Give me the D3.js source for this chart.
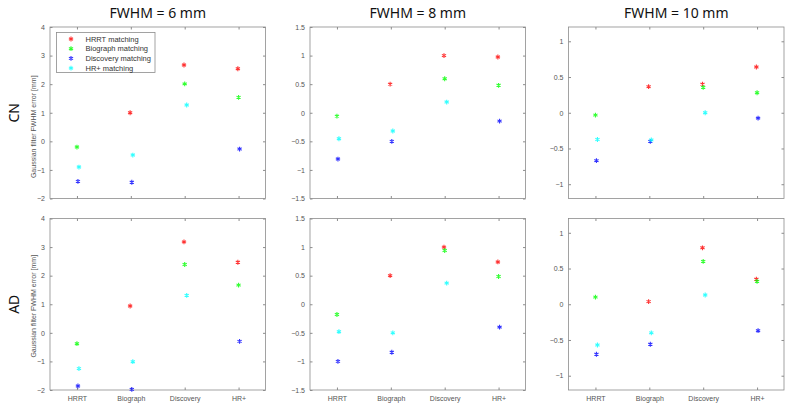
<!DOCTYPE html>
<html>
<head>
<meta charset="utf-8">
<script src="https://cdn.jsdelivr.net/npm/d3@7"></script>
<style>
  body { margin: 0; background: #fff; }
  svg { display: block; }
  .tick text { font-family: "Liberation Sans", Arial, sans-serif; font-size: 7px; fill: #555; }
</style>
</head>
<body>
<svg width="791" height="404"></svg>
<script>
// scanners on the x axis, one series per matching target
const scanners = ['HRRT', 'Biograph', 'Discovery', 'HR+'];
const matchings = ['HRRT matching', 'Biograph matching', 'Discovery matching', 'HR+ matching'];
const colors = ['#ff0000', '#00ff00', '#0000ff', '#00ffff'];
const groups = ['CN', 'AD'];
const fwhms = ['FWHM = 6 mm', 'FWHM = 8 mm', 'FWHM = 10 mm'];

const yDomains = [[-2, 4], [-1.5, 1.5], [-1.2, 1.2]];
const yTicks = [
  [-2, -1, 0, 1, 2, 3, 4],
  [-1.5, -1, -0.5, 0, 0.5, 1, 1.5],
  [-1, -0.5, 0, 0.5, 1]
];

// rows = matching series (HRRT, Biograph, Discovery, HR+), cols = scanners
const cn6 = [
  [null, 1.0, 2.67, 2.54],
  [-0.2, null, 2.01, 1.54],
  [-1.4, -1.43, null, -0.27],
  [-0.9, -0.48, 1.27, null]
];
const cn8 = [
  [null, 0.5, 1.0, 0.975],
  [-0.06, null, 0.595, 0.48],
  [-0.81, -0.5, null, -0.146],
  [-0.455, -0.32, 0.187, null]
];
const cn10 = [
  [null, 0.365, 0.4, 0.64],
  [-0.033, null, 0.355, 0.28],
  [-0.67, -0.4, null, -0.075],
  [-0.374, -0.38, 0.0, null]
];
const ad6 = [
  [null, 0.94, 3.18, 2.47],
  [-0.38, null, 2.39, 1.67],
  [-1.86, -1.98, null, -0.3],
  [-1.25, -1.01, 1.31, null]
];
const ad8 = [
  [null, 0.5, 1.0, 0.74],
  [-0.18, null, 0.94, 0.485],
  [-1.0, -0.84, null, -0.4],
  [-0.48, -0.5, 0.37, null]
];
const ad10 = [
  [null, 0.037, 0.79, 0.35],
  [0.1, null, 0.6, 0.32],
  [-0.7, -0.56, null, -0.37],
  [-0.57, -0.4, 0.13, null]
];
const panels = [[cn6, cn8, cn10], [ad6, ad8, ad10]];

const svg = d3.select('svg');
const colLeft = [50, 310, 568.5];
const rowTop = [27, 218.5];
const w = 215.5;
const h = 171.5;
const seriesShift = [-0.7, 0, 1, 2];
const axisColor = '#8c8c8c';

const marker = d3.symbol().type(d3.symbolAsterisk).size(16);

panels.forEach((row, r) => {
  row.forEach((data, c) => {
    const g = svg.append('g')
      .attr('transform', `translate(${colLeft[c]}, ${rowTop[r]})`);

    const x = d3.scalePoint().domain(scanners).range([0, w]).padding(0.5);
    const y = d3.scaleLinear().domain(yDomains[c]).range([h, 0]);

    // box
    g.append('rect')
      .attr('width', w).attr('height', h)
      .attr('fill', 'none').attr('stroke', axisColor).attr('stroke-width', 0.8);

    const yAxis = g.append('g')
      .call(d3.axisLeft(y).tickValues(yTicks[c]).tickSize(-2.5).tickPadding(5).tickFormat(d3.format('')));
    yAxis.select('.domain').remove();
    yAxis.selectAll('line').attr('stroke', axisColor);

    const yAxisR = g.append('g').attr('transform', `translate(${w},0)`)
      .call(d3.axisRight(y).tickValues(yTicks[c]).tickSize(-2.5).tickFormat(''));
    yAxisR.select('.domain').remove();
    yAxisR.selectAll('line').attr('stroke', axisColor);

    const xAxis = g.append('g').attr('transform', `translate(0,${h})`)
      .call(d3.axisBottom(x).tickSize(-2.5).tickPadding(6));
    xAxis.select('.domain').remove();
    xAxis.selectAll('line').attr('stroke', axisColor);
    if (r === 0) xAxis.selectAll('text').remove();

    const xAxisT = g.append('g')
      .call(d3.axisTop(x).tickSize(-2.5).tickFormat(''));
    xAxisT.select('.domain').remove();
    xAxisT.selectAll('line').attr('stroke', axisColor);

    data.forEach((vals, s) => {
      g.selectAll(null)
        .data(vals.map((v, i) => ({ v, cat: scanners[i] })).filter(d => d.v !== null))
        .enter()
        .append('path')
        .attr('d', marker)
        .attr('transform', d => `translate(${x(d.cat) + seriesShift[s]},${y(d.v)})`)
        .attr('fill', 'none')
        .attr('stroke', colors[s])
        .attr('stroke-width', 1.1)
        .attr('stroke-opacity', 0.8);
    });

    if (c === 0) {
      svg.append('text')
        .attr('transform', `translate(36, ${rowTop[r] + h / 2 + (r === 0 ? 14 : 2)}) rotate(-90)`)
        .attr('text-anchor', 'middle')
        .attr('font-family', 'Liberation Sans, Arial, sans-serif')
        .attr('font-size', '7px')
        .attr('fill', '#555')
        .text('Gaussian filter FWHM error [mm]');
    }

    if (r === 0) {
      svg.append('text')
        .attr('x', colLeft[c] + w / 2)
        .attr('y', 18)
        .attr('text-anchor', 'middle')
        .attr('font-family', 'Noto Sans, sans-serif')
        .attr('font-size', '14px')
        .attr('fill', '#111')
        .text(fwhms[c]);
    }
  });

  svg.append('text')
    .attr('transform', `translate(18.5, ${rowTop[r] + h / 2}) rotate(-90)`)
    .attr('text-anchor', 'middle')
    .attr('font-family', 'Noto Sans, sans-serif')
    .attr('font-size', '14px')
    .attr('fill', '#111')
    .text(groups[r]);
});

// legend on the first panel
const legend = svg.append('g').attr('transform', 'translate(56.5, 32.5)');
legend.append('rect')
  .attr('width', 98.5).attr('height', 40)
  .attr('fill', '#fff').attr('stroke', axisColor).attr('stroke-width', 0.8);
matchings.forEach((name, i) => {
  const yy = 6.5 + i * 9.7;
  legend.append('path')
    .attr('d', marker)
    .attr('transform', `translate(14.5, ${yy})`)
    .attr('fill', 'none')
    .attr('stroke', colors[i])
    .attr('stroke-width', 1.1)
    .attr('stroke-opacity', 0.8);
  legend.append('text')
    .attr('x', 29)
    .attr('y', yy + 2.5)
    .attr('font-family', 'Liberation Sans, Arial, sans-serif')
    .attr('font-size', '7.5px')
    .attr('fill', '#333')
    .text(name);
});
</script>
</body>
</html>
